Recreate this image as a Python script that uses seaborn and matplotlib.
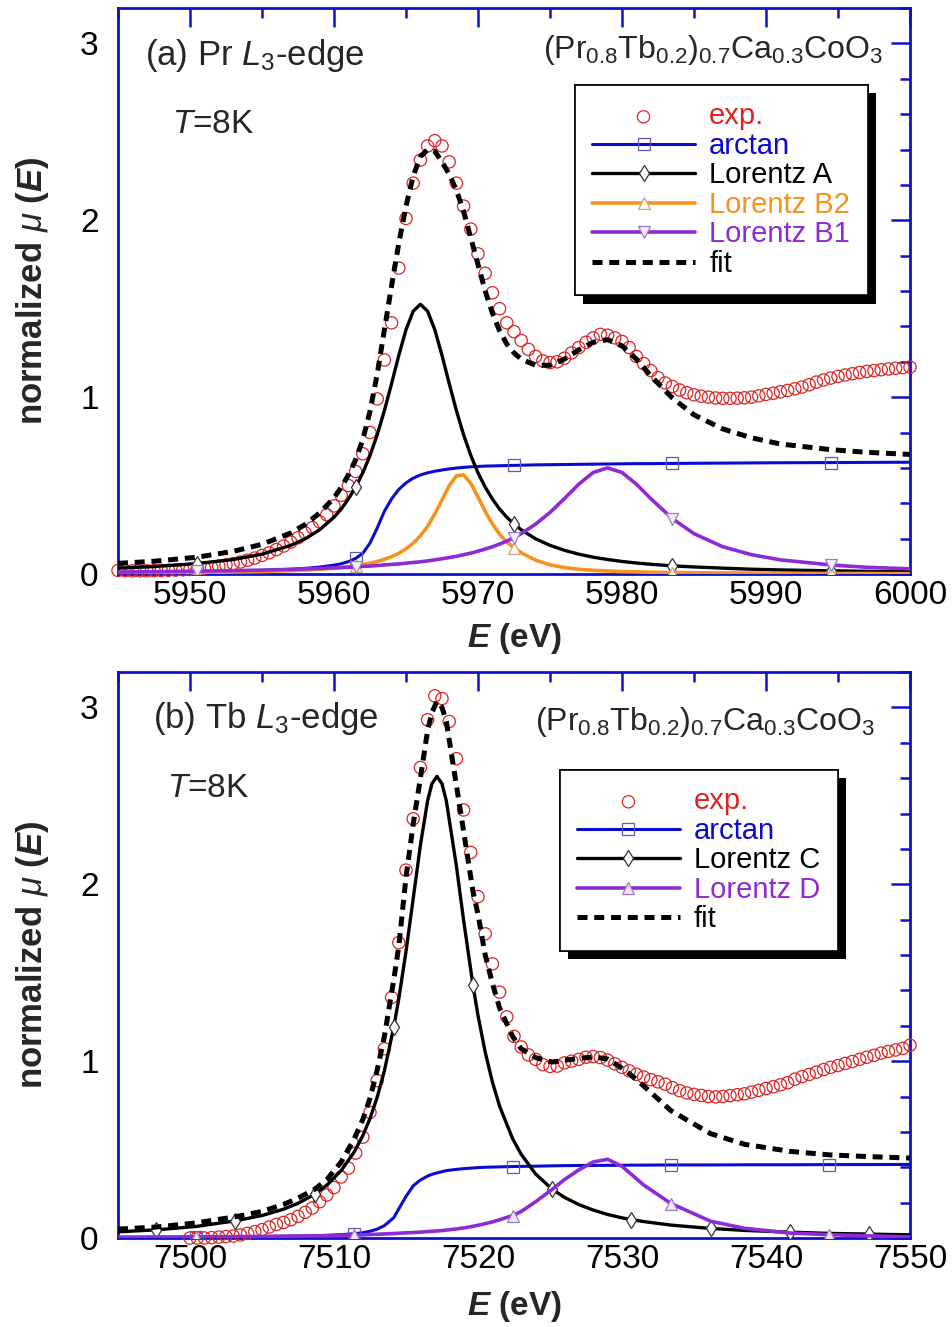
import matplotlib
matplotlib.use("Agg")
import matplotlib.pyplot as plt
import matplotlib.patheffects as pe
from matplotlib.ticker import MultipleLocator, AutoMinorLocator
import numpy as np
import seaborn as sns

# ---------------- (a) Pr L3-edge ----------------
# measured spectrum on a 0.5 eV grid, 5945 ... 6000 eV
exp_a_E = np.arange(5945.0, 6000.01, 0.5)
exp_a = [0.020, 0.019, 0.018, 0.018, 0.018, 0.019, 0.020, 0.021, 0.022, 0.024,
         0.026, 0.029, 0.033, 0.038, 0.044, 0.051, 0.059, 0.068, 0.078, 0.090,
         0.105, 0.120, 0.138, 0.158, 0.180, 0.205, 0.232, 0.262, 0.295, 0.335,
         0.385, 0.445, 0.500, 0.580, 0.680, 0.800, 0.990, 1.210, 1.420, 1.730,
         2.010, 2.210, 2.340, 2.420, 2.450, 2.420, 2.330, 2.210, 2.080, 1.950,
         1.810, 1.700, 1.590, 1.500, 1.420, 1.370, 1.320, 1.270, 1.230, 1.205,
         1.195, 1.200, 1.220, 1.250, 1.280, 1.310, 1.335, 1.355, 1.350, 1.335,
         1.315, 1.280, 1.230, 1.190, 1.150, 1.110, 1.080, 1.060, 1.040, 1.025,
         1.013, 1.005, 1.000, 0.995, 0.993, 0.993, 0.994, 0.996, 1.000, 1.007,
         1.015, 1.022, 1.030, 1.038, 1.047, 1.057, 1.070, 1.085, 1.097, 1.108,
         1.117, 1.125, 1.132, 1.139, 1.145, 1.150, 1.155, 1.159, 1.163, 1.167,
         1.170]

# energies where the fit components were read
fit_a_E = [5945, 5947.5, 5950.5, 5953, 5955, 5957, 5958, 5959, 5960, 5960.5,
           5961, 5961.5, 5962, 5962.5, 5963, 5963.5, 5964, 5964.5, 5965, 5965.5,
           5966, 5966.5, 5967, 5967.5, 5968, 5968.5, 5969, 5969.5, 5970, 5970.5,
           5971, 5971.5, 5972, 5972.5, 5973, 5974, 5975, 5976, 5977, 5978,
           5979, 5980, 5981, 5982, 5983.5, 5985, 5987, 5989, 5991, 5994.5,
           5997, 6000]
arctan_a = [0.006, 0.008, 0.011, 0.015, 0.020, 0.027, 0.032, 0.039, 0.050, 0.058,
            0.070, 0.088, 0.117, 0.175, 0.260, 0.355, 0.425, 0.478, 0.515, 0.542,
            0.560, 0.572, 0.581, 0.588, 0.594, 0.599, 0.603, 0.606, 0.608, 0.610,
            0.611, 0.612, 0.613, 0.614, 0.615, 0.617, 0.618, 0.619, 0.620, 0.621,
            0.622, 0.623, 0.624, 0.624, 0.625, 0.626, 0.627, 0.628, 0.629, 0.630,
            0.631, 0.632]
lorentz_A = [0.033, 0.042, 0.059, 0.082, 0.112, 0.162, 0.199, 0.250, 0.321, 0.367,
             0.424, 0.491, 0.572, 0.670, 0.787, 0.924, 1.077, 1.236, 1.381, 1.486,
             1.525, 1.486, 1.381, 1.236, 1.077, 0.924, 0.787, 0.670, 0.572, 0.491,
             0.424, 0.367, 0.321, 0.283, 0.250, 0.199, 0.162, 0.134, 0.112, 0.095,
             0.082, 0.071, 0.062, 0.055, 0.046, 0.040, 0.033, 0.027, 0.023, 0.018,
             0.015, 0.013]
lorentz_B2 = [0.005, 0.006, 0.008, 0.011, 0.014, 0.019, 0.022, 0.027, 0.033, 0.037,
              0.042, 0.047, 0.054, 0.061, 0.071, 0.083, 0.098, 0.117, 0.142, 0.174,
              0.216, 0.270, 0.339, 0.419, 0.499, 0.555, 0.560, 0.513, 0.435, 0.354,
              0.283, 0.225, 0.181, 0.148, 0.120, 0.078, 0.052, 0.036, 0.027, 0.021,
              0.017, 0.014, 0.012, 0.010, 0.008, 0.007, 0.006, 0.005, 0.004, 0.003,
              0.003, 0.002]
lorentz_B1 = [0.011, 0.013, 0.016, 0.019, 0.022, 0.026, 0.029, 0.031, 0.035, 0.036,
              0.038, 0.040, 0.043, 0.045, 0.048, 0.051, 0.054, 0.057, 0.061, 0.065,
              0.069, 0.074, 0.080, 0.086, 0.093, 0.100, 0.109, 0.118, 0.129, 0.141,
              0.154, 0.169, 0.186, 0.206, 0.228, 0.282, 0.348, 0.426, 0.508, 0.574,
              0.600, 0.574, 0.508, 0.426, 0.313, 0.228, 0.154, 0.109, 0.080, 0.051,
              0.038, 0.029]
fit_a = [0.060, 0.072, 0.095, 0.128, 0.168, 0.232, 0.280, 0.345, 0.430, 0.490,
         0.560, 0.645, 0.760, 0.920, 1.130, 1.380, 1.630, 1.870, 2.080, 2.250,
         2.360, 2.400, 2.390, 2.330, 2.260, 2.170, 2.050, 1.900, 1.750, 1.600,
         1.475, 1.375, 1.300, 1.250, 1.215, 1.180, 1.180, 1.215, 1.267, 1.310,
         1.325, 1.290, 1.215, 1.120, 0.995, 0.900, 0.820, 0.770, 0.735, 0.703,
         0.688, 0.676]
marks_a = [5950.5, 5961.5, 5972.5, 5983.5, 5994.5]

# ---------------- (b) Tb L3-edge ----------------
exp_b_E = np.arange(7500.0, 7550.01, 0.5)
exp_b = [0.000, 0.000, 0.000, 0.002, 0.005, 0.008, 0.011, 0.017, 0.026, 0.036,
         0.047, 0.062, 0.077, 0.088, 0.103, 0.122, 0.145, 0.170, 0.205, 0.243,
         0.285, 0.345, 0.395, 0.480, 0.570, 0.710, 0.890, 1.070, 1.360, 1.670,
         2.080, 2.370, 2.660, 2.930, 3.065, 3.050, 2.920, 2.710, 2.420, 2.180,
         1.930, 1.720, 1.550, 1.390, 1.250, 1.140, 1.080, 1.035, 1.010, 0.980,
         0.970, 0.972, 0.990, 1.000, 1.010, 1.022, 1.026, 1.020, 1.006, 0.985,
         0.965, 0.945, 0.925, 0.910, 0.895, 0.883, 0.870, 0.850, 0.833, 0.820,
         0.812, 0.806, 0.800, 0.798, 0.800, 0.805, 0.810, 0.815, 0.825, 0.835,
         0.845, 0.855, 0.866, 0.878, 0.898, 0.912, 0.925, 0.938, 0.952, 0.965,
         0.975, 0.987, 0.998, 1.010, 1.022, 1.033, 1.045, 1.055, 1.063, 1.072,
         1.090]

fit_b_E = [7495, 7497.65, 7500.4, 7503.15, 7505, 7506.5, 7507.5, 7508.65, 7509.5, 7510.5,
           7511.4, 7512, 7512.5, 7513, 7513.5, 7514.15, 7514.5, 7515, 7515.5, 7516,
           7516.5, 7516.8, 7517.15, 7517.5, 7517.8, 7518.5, 7519, 7519.65, 7520, 7520.5,
           7521, 7521.5, 7522.4, 7523, 7524, 7525.15, 7526, 7527, 7528, 7529,
           7530, 7530.65, 7531.5, 7533.4, 7536.15, 7538.5, 7541.65, 7544.4, 7547.15, 7550]
arctan_b = [0.004, 0.005, 0.006, 0.007, 0.008, 0.010, 0.011, 0.013, 0.015, 0.019,
            0.024, 0.030, 0.038, 0.050, 0.070, 0.115, 0.165, 0.235, 0.295, 0.328,
            0.350, 0.360, 0.368, 0.375, 0.381, 0.388, 0.392, 0.396, 0.398, 0.400,
            0.401, 0.402, 0.404, 0.405, 0.406, 0.408, 0.409, 0.410, 0.410, 0.411,
            0.411, 0.412, 0.412, 0.413, 0.413, 0.414, 0.414, 0.415, 0.415, 0.416]
lorentz_C = [0.035, 0.046, 0.065, 0.097, 0.127, 0.163, 0.196, 0.247, 0.299, 0.381,
             0.486, 0.579, 0.676, 0.796, 0.946, 1.192, 1.353, 1.620, 1.919, 2.221,
             2.472, 2.568, 2.610, 2.568, 2.472, 2.103, 1.797, 1.429, 1.258, 1.051,
             0.882, 0.745, 0.562, 0.473, 0.362, 0.276, 0.230, 0.189, 0.158, 0.133,
             0.114, 0.104, 0.093, 0.073, 0.054, 0.043, 0.033, 0.026, 0.022, 0.018]
lorentz_D = [0.004, 0.005, 0.006, 0.008, 0.009, 0.010, 0.011, 0.012, 0.013, 0.015,
             0.017, 0.018, 0.020, 0.021, 0.023, 0.025, 0.027, 0.029, 0.031, 0.033,
             0.036, 0.038, 0.040, 0.042, 0.045, 0.051, 0.057, 0.066, 0.072, 0.081,
             0.091, 0.103, 0.127, 0.150, 0.205, 0.275, 0.330, 0.385, 0.430, 0.445,
             0.405, 0.360, 0.300, 0.195, 0.095, 0.055, 0.028, 0.019, 0.012, 0.006]
fit_b = [0.050, 0.062, 0.085, 0.120, 0.150, 0.190, 0.225, 0.275, 0.330, 0.430,
         0.560, 0.670, 0.790, 0.950, 1.140, 1.460, 1.650, 2.040, 2.340, 2.600,
         2.870, 2.970, 3.035, 3.000, 2.920, 2.560, 2.300, 1.960, 1.830, 1.600,
         1.440, 1.300, 1.140, 1.070, 1.020, 0.995, 1.005, 1.015, 1.024, 1.012,
         0.960, 0.920, 0.860, 0.720, 0.590, 0.530, 0.490, 0.470, 0.460, 0.452]
marks_b = [7500.4, 7511.4, 7522.4, 7533.4, 7544.4]
marks_b_C = [7497.65, 7503.15, 7508.65, 7514.15, 7519.65, 7525.15, 7530.65,
             7536.15, 7541.65, 7547.15]

# ---------------- style ----------------
RED = "#dc2424"
BLUE = "#0a0ad0"
ORANGE = "#f7921e"
PURPLE = "#8e2bd6"
AXBLUE = "#1010cc"

sns.set_theme(style="white")
plt.rcParams['font.family'] = ['Liberation Sans', 'DejaVu Sans']
plt.rcParams['mathtext.fontset'] = 'custom'
plt.rcParams['mathtext.rm'] = 'Liberation Sans'
plt.rcParams['mathtext.it'] = 'Liberation Sans:italic'
plt.rcParams['mathtext.bf'] = 'Liberation Sans:bold:italic'

fig = plt.figure(figsize=(9.53, 13.27), dpi=100)
ax_a = fig.add_axes([118 / 953, 1 - 574 / 1327, 792 / 953, 566 / 1327])
ax_b = fig.add_axes([118 / 953, 1 - 1238 / 1327, 792 / 953, 566 / 1327])


def component(ax, E, y, label, color, marker, marks, mec, mfc, lw=2.3):
    sns.lineplot(x=E, y=y, ax=ax, color=color, linewidth=lw, label=label,
                 estimator=None, sort=False, marker=marker,
                 markevery=[E.index(m) for m in marks], markersize=8,
                 markeredgecolor=mec, markerfacecolor=mfc, markeredgewidth=0.9,
                 zorder=4)


def style_axes(ax, xlim, xlab_y):
    ax.set_xlim(*xlim)
    ax.set_ylim(0, 3.2)
    ax.xaxis.set_major_locator(MultipleLocator(10))
    ax.xaxis.set_minor_locator(AutoMinorLocator(2))
    ax.yaxis.set_major_locator(MultipleLocator(1))
    ax.yaxis.set_minor_locator(AutoMinorLocator(5))
    ax.tick_params(which='both', direction='in', top=True, right=True,
                   color=AXBLUE, labelcolor='black', labelsize=24, width=1.8)
    ax.tick_params(which='major', length=13.5)
    ax.tick_params(which='minor', length=7.5)
    ax.tick_params(axis='x', pad=4)
    ax.tick_params(axis='y', pad=14)
    for s in ax.spines.values():
        s.set_color(AXBLUE)
        s.set_linewidth(2.0)
    ax.set_xlabel(r"$\mathbf{E}$ (eV)", fontsize=24, fontweight='bold')
    ax.set_ylabel(r"normalized $\mu$ ($\mathbf{E}$)", fontsize=25, fontweight='bold')
    ax.xaxis.set_label_coords(0.5, xlab_y)
    ax.yaxis.set_label_coords(-0.085, 0.5)
    ax.grid(False)


def legend(ax, anchor, colors):
    leg = ax.legend(loc='upper left', bbox_to_anchor=anchor, borderaxespad=0,
                    fontsize=21, frameon=True, fancybox=False, framealpha=1,
                    edgecolor='black', borderpad=0.6, labelspacing=0.05,
                    handlelength=3.5, handletextpad=0.5, labelcolor=colors)
    fr = leg.get_frame()
    fr.set_linewidth(1.2)
    fr.set_path_effects([pe.withSimplePatchShadow(offset=(6, -6), shadow_rgbFace='black', alpha=1),
                         pe.Normal()])


# ---- panel (a) ----
ax = ax_a
sns.scatterplot(x=exp_a_E, y=exp_a, ax=ax, marker='o', s=78, facecolors='none',
                edgecolor=RED, linewidth=0.9, label='exp.', clip_on=False, zorder=3)
component(ax, fit_a_E, arctan_a, 'arctan', BLUE, 's', marks_a, '#5b5bb0', 'none', 2.2)
component(ax, fit_a_E, lorentz_A, 'Lorentz A', 'black', 'd', marks_a, '#333333', 'white', 2.4)
component(ax, fit_a_E, lorentz_B2, 'Lorentz B2', ORANGE, '^', marks_a, '#c8a878', '#fff8ec', 2.6)
component(ax, fit_a_E, lorentz_B1, 'Lorentz B1', PURPLE, 'v', marks_a, '#9c7cc8', '#f4eefa', 2.6)
sns.lineplot(x=fit_a_E, y=fit_a, ax=ax, color='black', linewidth=3.6,
             linestyle=(0, (2.0, 1.35)), label='fit', estimator=None, sort=False, zorder=5)
style_axes(ax, (5945, 6000), -0.083)
ax.text(0.034, 0.899, r"(a) Pr $L_3$-edge", transform=ax.transAxes, fontsize=25,
        va='baseline', ha='left')
ax.text(0.068, 0.779, r"$T$=8K", transform=ax.transAxes, fontsize=24,
        va='baseline', ha='left')
ax.text(0.966, 0.912, r"(Pr$_{0.8}$Tb$_{0.2}$)$_{0.7}$Ca$_{0.3}$CoO$_3$",
        transform=ax.transAxes, fontsize=23, va='baseline', ha='right')
legend(ax, (0.577, 0.864), [RED, BLUE, 'black', ORANGE, PURPLE, 'black'])

# ---- panel (b) ----
ax = ax_b
sns.scatterplot(x=exp_b_E, y=exp_b, ax=ax, marker='o', s=78, facecolors='none',
                edgecolor=RED, linewidth=0.9, label='exp.', clip_on=False, zorder=3)
component(ax, fit_b_E, arctan_b, 'arctan', BLUE, 's', marks_b, '#5b5bb0', 'none', 2.2)
component(ax, fit_b_E, lorentz_C, 'Lorentz C', 'black', 'd', marks_b_C, '#333333', 'white', 2.4)
component(ax, fit_b_E, lorentz_D, 'Lorentz D', PURPLE, '^', marks_b, '#9c7cc8', '#ece6f4', 2.6)
sns.lineplot(x=fit_b_E, y=fit_b, ax=ax, color='black', linewidth=3.6,
             linestyle=(0, (2.0, 1.35)), label='fit', estimator=None, sort=False, zorder=5)
style_axes(ax, (7495, 7550), -0.09)
ax.text(0.044, 0.901, r"(b) Tb $L_3$-edge", transform=ax.transAxes, fontsize=25,
        va='baseline', ha='left')
ax.text(0.062, 0.779, r"$T$=8K", transform=ax.transAxes, fontsize=24,
        va='baseline', ha='left')
ax.text(0.956, 0.898, r"(Pr$_{0.8}$Tb$_{0.2}$)$_{0.7}$Ca$_{0.3}$CoO$_3$",
        transform=ax.transAxes, fontsize=23, va='baseline', ha='right')
legend(ax, (0.558, 0.827), [RED, BLUE, 'black', PURPLE, 'black'])

fig.savefig("out.png", dpi=100)
